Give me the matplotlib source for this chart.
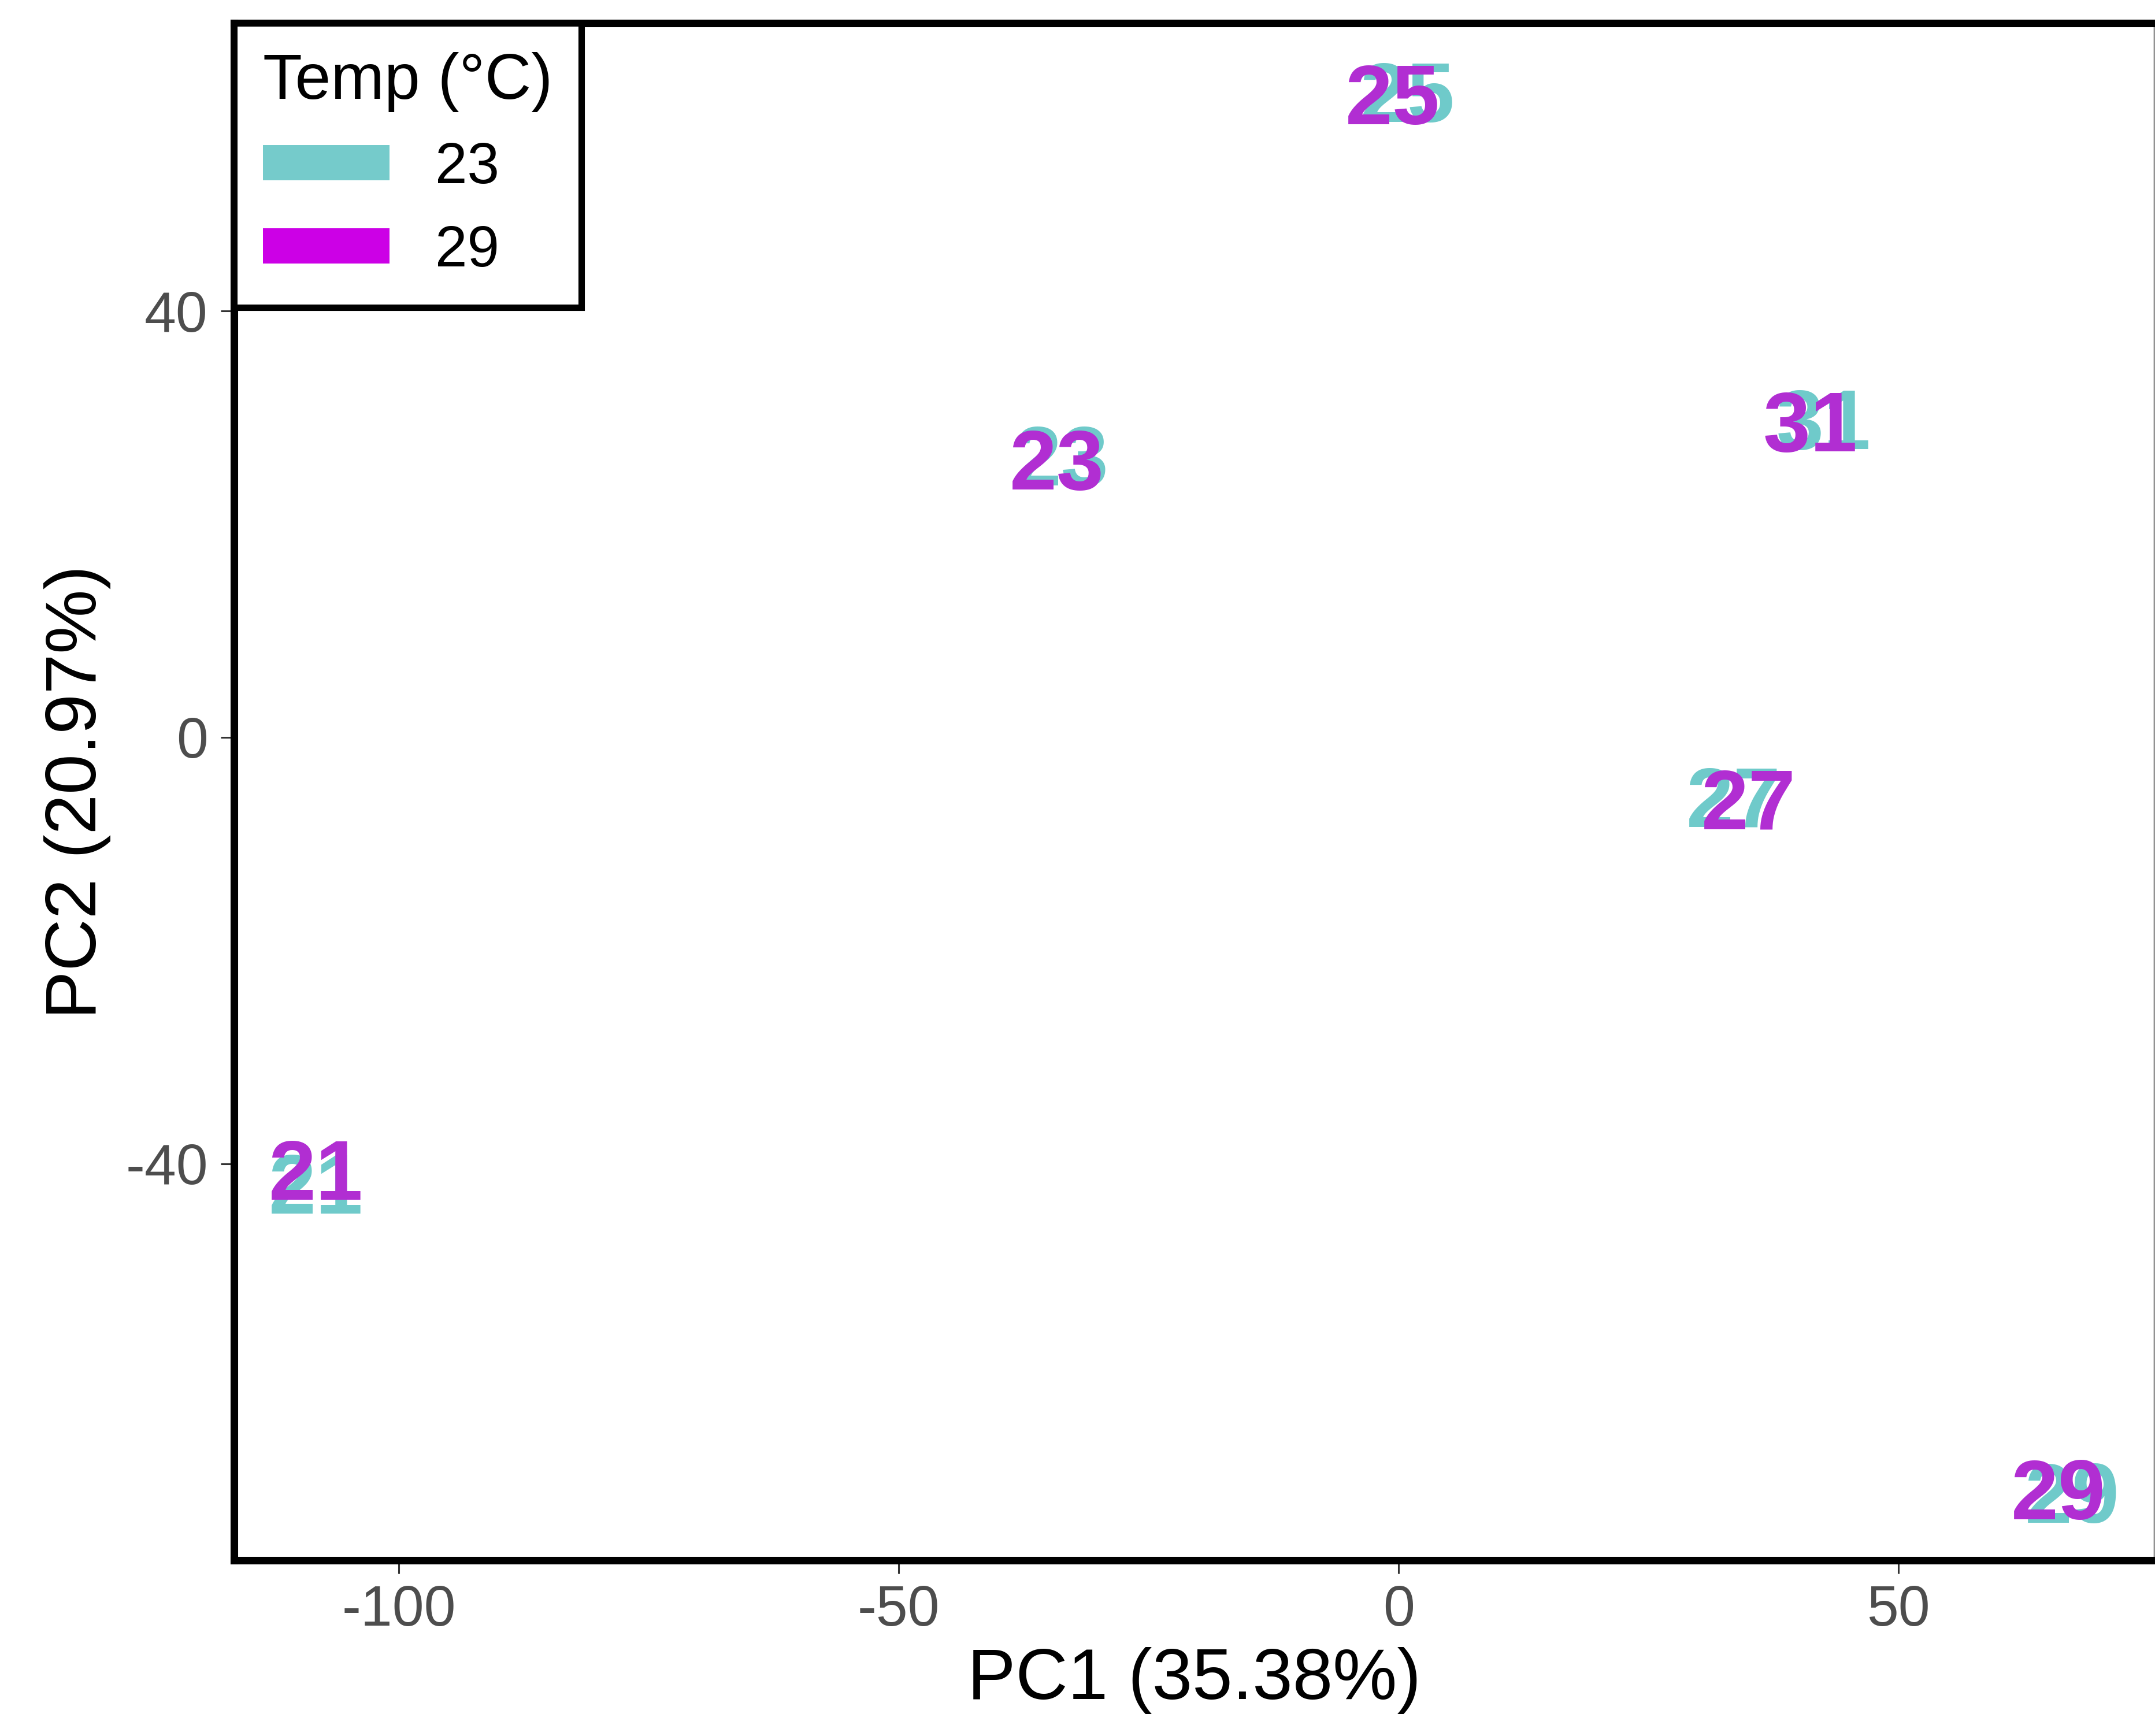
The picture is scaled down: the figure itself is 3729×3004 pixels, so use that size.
import matplotlib
matplotlib.use("Agg")
import matplotlib.pyplot as plt
from matplotlib.patches import Patch

plt.rcParams['font.family'] = ['Liberation Sans', 'DejaVu Sans']
plt.rcParams['axes.unicode_minus'] = False

# ---- data ----
labels = ["21", "23", "25", "27", "29", "31"]
temp_groups = ["23", "29"]
pc1_23 = [-108.3, -33.7, 0.9, 33.5, 67.4, 42.5]
pc2_23 = [-41.8, 26.5, 60.6, -5.5, -70.8, 29.9]
pc1_29 = [-108.3, -34.2, -0.6, 35.0, 66.0, 41.2]
pc2_29 = [-40.5, 26.1, 60.4, -5.7, -70.5, 29.7]
x_ticks = [-100, -50, 0, 50]
y_ticks = [-40, 0, 40]
x_label = "PC1 (35.38%)"
y_label = "PC2 (20.97%)"
legend_title = "Temp (°C)"

text_colors = {"23": "#6FCACA", "29": "#B12ED2"}
key_colors = {"23": "#75CBCB", "29": "#CC00E6"}

fig = plt.figure(figsize=(37.30, 30.04), dpi=100)
ax = fig.add_axes([0.1086, 0.1012, 0.9992 - 0.1086, 0.98668 - 0.1012])

for xs, ys, grp in [(pc1_23, pc2_23, "23"), (pc1_29, pc2_29, "29")]:
    for xv, yv, lab in zip(xs, ys, labels):
        ax.text(xv, yv, lab, color=text_colors[grp], fontsize=106,
                fontweight='bold', ha='center', va='center_baseline')

ax.set_xlim(-116.5, 75.55)
ax.set_ylim(-77.2, 67.0)
ax.set_xticks(x_ticks)
ax.set_xticklabels([str(v) for v in x_ticks])
ax.set_yticks(y_ticks)
ax.set_yticklabels([str(v) for v in y_ticks])

for s in ['left', 'bottom', 'top']:
    ax.spines[s].set_linewidth(9.4)
    ax.spines[s].set_color('black')
ax.spines['right'].set_linewidth(1.0)
ax.spines['right'].set_color('#222222')

ax.tick_params(axis='both', direction='out', length=16.5, width=2.2,
               color='#333333', labelcolor='#4D4D4D', labelsize=71)
ax.tick_params(axis='x', pad=14)
ax.tick_params(axis='y', pad=16)

ax.set_xlabel(x_label, fontsize=90, color='black', labelpad=12)
ax.set_ylabel(y_label, fontsize=90, color='black', labelpad=18)

handles = [Patch(facecolor=key_colors[g], edgecolor='none', label=g) for g in temp_groups]
leg = ax.legend(handles=handles, title=legend_title, loc='upper left',
                bbox_to_anchor=(0, 1), borderaxespad=0, fontsize=72,
                title_fontsize=80, alignment='left', frameon=True,
                fancybox=False, framealpha=1, edgecolor='black',
                handlelength=2.19, handleheight=0.57, handletextpad=0.79,
                labelspacing=0.5, borderpad=0.5)
leg.get_frame().set_linewidth(8)
leg.set_zorder(10)

fig.savefig("out.png", dpi=100)
